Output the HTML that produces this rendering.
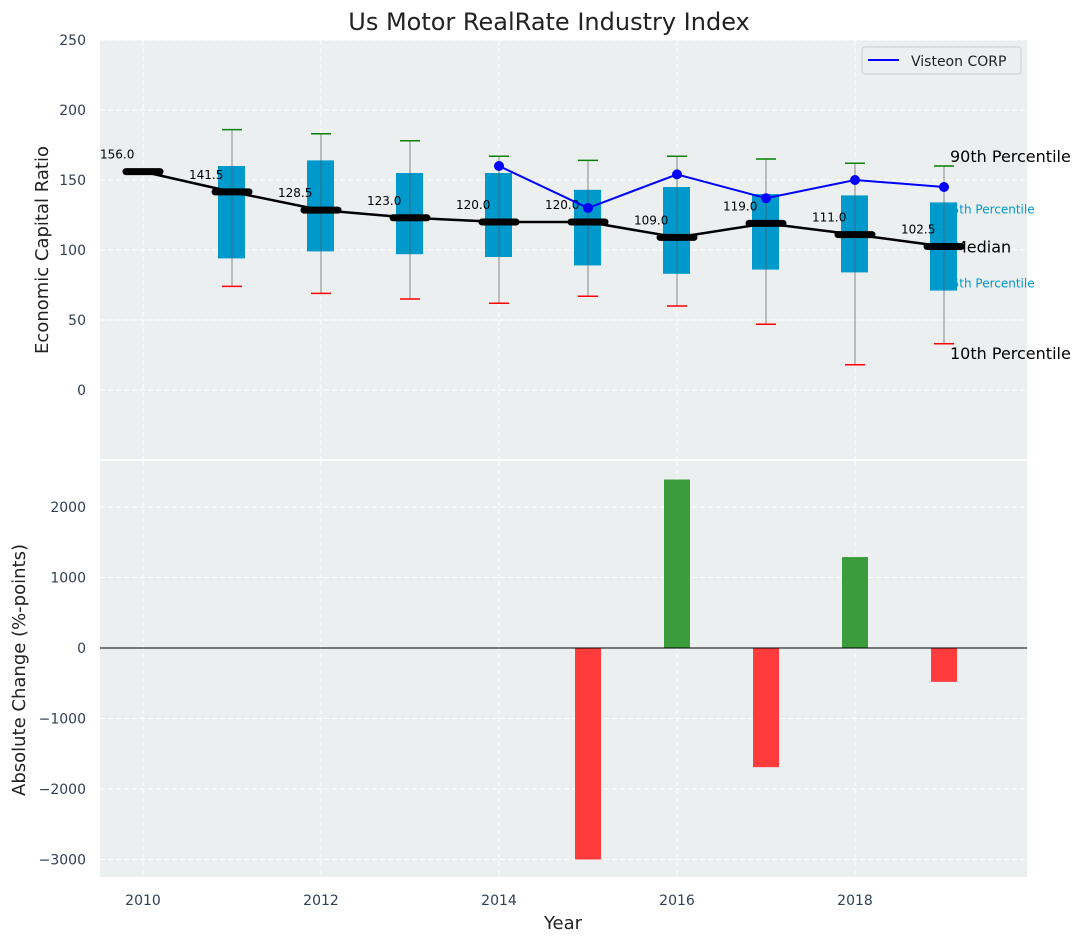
<!DOCTYPE html>
<html><head><meta charset="utf-8"><style>
body{margin:0;background:#fff;}
svg{display:block;font-family:"DejaVu Sans","Liberation Sans",sans-serif;}
</style></head><body>
<svg id="c" width="1085" height="942" xmlns="http://www.w3.org/2000/svg"></svg>
<script>
const years=[2010,2011,2012,2013,2014,2015,2016,2017,2018,2019];
const medians=[156,141.5,128.5,123,120,120,109,119,111,102.5];
const q1=[null,94,99,97,95,89,83,86,84,71];
const q3=[null,160,164,155,155,143,145,140,139,134];
const p10=[null,74,69,65,62,67,60,47,18,33];
const p90=[null,186,183,178,167,164,167,165,162,160];
const visteonYears=[2014,2015,2016,2017,2018,2019];
const visteon=[160,130,154,137,150,145];
const changeYears=[2015,2016,2017,2018,2019];
const changes=[-3000,2390,-1690,1290,-480];
const topTicks=[0,50,100,150,200,250];
const botTicks=[-3000,-2000,-1000,0,1000,2000];
const xTicks=[2010,2012,2014,2016,2018];

const NS="http://www.w3.org/2000/svg";
const svg=document.getElementById('c');
function el(t,a,txt){const e=document.createElementNS(NS,t);for(const k in a)e.setAttribute(k,a[k]);if(txt!==undefined)e.textContent=txt;svg.appendChild(e);return e;}
const X=v=>143+(v-2010)*89;
const Y1=v=>390-v*1.4;
const Y2=v=>648-v*0.0705;
const L=100,R=1027;
const TC='#2f3e50';

let e=el('rect',{x:L,y:40,width:R-L,height:419,fill:'#eceff0'});

e=el('rect',{x:L,y:461,width:R-L,height:416,fill:'#eceff0'});


xTicks.forEach(t=>{
  e=el('line',{x1:X(t),x2:X(t),y1:40,y2:459,stroke:'#fff','stroke-dasharray':'5,3','stroke-width':1});
  
  e=el('line',{x1:X(t),x2:X(t),y1:461,y2:877,stroke:'#fff','stroke-dasharray':'5,3','stroke-width':1});
  
  e=el('text',{x:X(t),y:905,'text-anchor':'middle','font-size':14,fill:TC},t);
  
});
topTicks.forEach(t=>{
  e=el('line',{x1:L,x2:R,y1:Y1(t),y2:Y1(t),stroke:'#fff','stroke-dasharray':'5,3'});
  
  e=el('text',{x:86,y:Y1(t)+5,'text-anchor':'end','font-size':14,fill:TC},t);
  
});
botTicks.forEach(t=>{
  e=el('line',{x1:L,x2:R,y1:Y2(t),y2:Y2(t),stroke:'#fff','stroke-dasharray':'5,3'});
  
  e=el('text',{x:86,y:Y2(t)+5,'text-anchor':'end','font-size':14,fill:TC},String(t).replace('-','\u2212'));
  
});

const li=years.length-1;
e=el('text',{x:950,y:Y1(p90[li])-4,'font-size':16,fill:'#000'},'90th Percentile');

e=el('text',{x:944,y:Y1(q3[li])+11,'font-size':12,fill:'#0099cc'},'75th Percentile');

e=el('text',{x:953,y:Y1(medians[li])+6,'font-size':16,fill:'#000'},'Median');

e=el('text',{x:944,y:Y1(q1[li])-3,'font-size':12,fill:'#0099cc'},'25th Percentile');

e=el('text',{x:950,y:Y1(p10[li])+15,'font-size':16,fill:'#000'},'10th Percentile');


years.forEach((y,i)=>{
  if(q1[i]===null)return;
  const x=X(y);
  e=el('line',{x1:x,x2:x,y1:Y1(p90[i]),y2:Y1(p10[i]),stroke:'#888','stroke-width':1});
  
  e=el('rect',{x:x-14,y:Y1(q3[i]),width:27,height:Y1(q1[i])-Y1(q3[i]),fill:'#0099cc'});
  
  e=el('line',{x1:x,x2:x,y1:Y1(q3[i]),y2:Y1(q1[i]),stroke:'#555','stroke-width':1,opacity:0.6});
  
  e=el('line',{x1:x-10,x2:x+10,y1:Y1(p90[i]),y2:Y1(p90[i]),stroke:'green','stroke-width':1.5});
  
  e=el('line',{x1:x-10,x2:x+10,y1:Y1(p10[i]),y2:Y1(p10[i]),stroke:'red','stroke-width':1.5});
  
});

e=el('polyline',{points:years.map((y,i)=>X(y)+','+Y1(medians[i])).join(' '),fill:'none',stroke:'#000','stroke-width':2.5});

years.forEach((y,i)=>{
  e=el('line',{x1:X(y)-17,x2:X(y)+17,y1:Y1(medians[i]),y2:Y1(medians[i]),stroke:'#000','stroke-width':7,'stroke-linecap':'round'});
  
  e=el('text',{x:X(y)-43,y:Y1(medians[i])-13,'font-size':12,fill:'#000'},medians[i].toFixed(1));
  
});

e=el('polyline',{points:visteonYears.map((y,i)=>X(y)+','+Y1(visteon[i])).join(' '),fill:'none',stroke:'blue','stroke-width':2});

visteonYears.forEach((y,i)=>{
  e=el('circle',{cx:X(y),cy:Y1(visteon[i]),r:5,fill:'blue'});
  
});

e=el('rect',{x:862,y:47,width:159,height:27,rx:3,fill:'#eceff0',stroke:'#ccc'});

e=el('line',{x1:868,x2:899,y1:60,y2:60,stroke:'blue','stroke-width':2});

e=el('text',{x:911,y:66,'font-size':14,fill:'#222'},'Visteon CORP');


changeYears.forEach((y,i)=>{
  const v=changes[i],y0=Y2(0),y1=Y2(v);
  e=el('rect',{x:X(y)-13,y:Math.min(y0,y1),width:26,height:Math.abs(y1-y0),fill:v>=0?'#3a9c3a':'#ff3b3b'});
  
});
e=el('line',{x1:L,x2:R,y1:Y2(0),y2:Y2(0),stroke:'#000','stroke-width':1});


e=el('text',{x:549,y:30,'text-anchor':'middle','font-size':24,fill:'#222'},'Us Motor RealRate Industry Index');

e=el('text',{x:48,y:250,'text-anchor':'middle','font-size':18,fill:'#222',transform:'rotate(-90 48 250)'},'Economic Capital Ratio');

e=el('text',{x:25,y:670,'text-anchor':'middle','font-size':18,fill:'#222',transform:'rotate(-90 25 670)'},'Absolute Change (%-points)');

e=el('text',{x:563,y:929,'text-anchor':'middle','font-size':18,fill:'#222'},'Year');

</script>
</body></html>
